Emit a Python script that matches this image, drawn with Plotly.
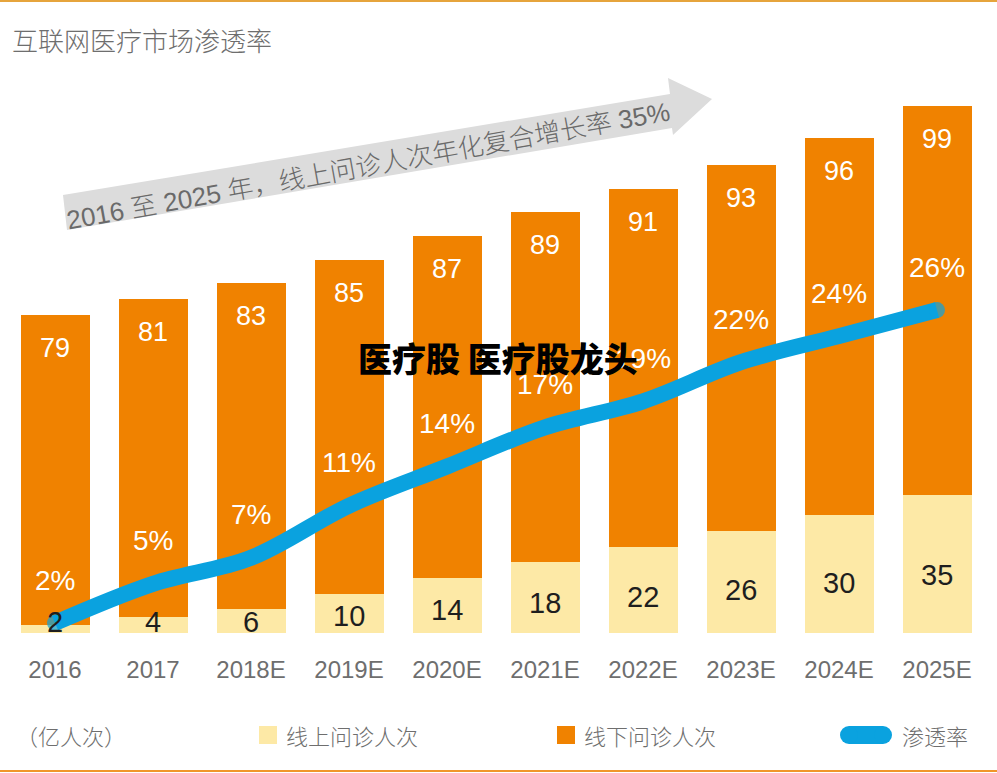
import plotly.graph_objects as go

# ---- data ----
years = ["2016", "2017", "2018E", "2019E", "2020E", "2021E", "2022E", "2023E", "2024E", "2025E"]
online_visits = [2, 4, 6, 10, 14, 18, 22, 26, 30, 35]        # 线上问诊人次 (亿人次)
offline_visits = [79, 81, 83, 85, 87, 89, 91, 93, 96, 99]    # 线下问诊人次 (亿人次)
penetration = [2, 5, 7, 11, 14, 17, 19, 22, 24, 26]          # 渗透率 (%)

ORANGE = "#F08200"
YELLOW = "#FDE9A6"
BLUE = "#0AA2DF"
GRAY = "#6E6E6E"
NUM_FONT = "Liberation Sans, Arial, sans-serif"
CJK_FONT = "Noto Sans CJK SC, sans-serif"
MIX_FONT = "Liberation Sans, Noto Sans CJK SC, sans-serif"

W, H = 997, 773
L, R, T, B = 6, 11, 80, 140
pw, ph = W - L - R, H - T - B


def px(x):
    return (x - L) / pw


def py(y):
    return (H - B - y) / ph


idx = list(range(len(years)))

fig = go.Figure()
fig.add_bar(x=idx, y=online_visits, name="线上问诊人次", marker=dict(color=YELLOW, line_width=0))
fig.add_bar(x=idx, y=offline_visits, name="线下问诊人次", marker=dict(color=ORANGE, line_width=0))
fig.add_scatter(
    x=idx, y=penetration, yaxis="y2", name="渗透率", mode="lines+markers",
    line=dict(color=BLUE, width=16, shape="spline", smoothing=1.0),
    marker=dict(size=[16] + [0] * (len(years) - 2) + [16], color=BLUE, line_width=0),
)

annotations = []
# offline value labels (near bar tops)
for i, on, off in zip(idx, online_visits, offline_visits):
    annotations.append(dict(x=i, y=on + off, xref="x", yref="y", text=str(off), showarrow=False,
                            yshift=-33, font=dict(family=NUM_FONT, size=27, color="white")))
# online value labels
for i, on in zip(idx, online_visits):
    annotations.append(dict(x=i, y=max(on * 0.42, 2.8), xref="x", yref="y", text=str(on), showarrow=False,
                            font=dict(family=NUM_FONT, size=29, color="#1E1E1E")))
# penetration labels
for i, p in zip(idx, penetration):
    annotations.append(dict(x=i, y=p, xref="x", yref="y2", text=f"{p}%", showarrow=False,
                            yshift=43, font=dict(family=NUM_FONT, size=28, color="white")))

# title
annotations.append(dict(x=px(10), y=py(40), xref="paper", yref="paper", xanchor="left", yanchor="middle",
                        text="互联网医疗市场渗透率", showarrow=False,
                        font=dict(family=CJK_FONT, size=26, color=GRAY, weight=300)))
# arrow text
annotations.append(dict(x=px(368), y=py(166), xref="paper", yref="paper", xanchor="center", yanchor="middle",
                        text="2016 至 2025 年，线上问诊人次年化复合增长率 35%", showarrow=False, textangle=-10.3,
                        font=dict(family=MIX_FONT, size=26, color="#6A6A6A", weight=300)))
# watermark
annotations.append(dict(x=px(498), y=py(357), xref="paper", yref="paper", xanchor="center", yanchor="middle",
                        text="医疗股 医疗股龙头", showarrow=False,
                        font=dict(family=CJK_FONT, size=34, color="black", weight=900)))
# legend texts
annotations += [
    dict(x=px(14), y=py(735), xref="paper", yref="paper", xanchor="left", yanchor="middle",
         text="（亿人次）", showarrow=False, font=dict(family=CJK_FONT, size=22, color=GRAY, weight=300)),
    dict(x=px(284), y=py(735), xref="paper", yref="paper", xanchor="left", yanchor="middle",
         text="线上问诊人次", showarrow=False, font=dict(family=CJK_FONT, size=22, color=GRAY, weight=300)),
    dict(x=px(582), y=py(735), xref="paper", yref="paper", xanchor="left", yanchor="middle",
         text="线下问诊人次", showarrow=False, font=dict(family=CJK_FONT, size=22, color=GRAY, weight=300)),
    dict(x=px(900), y=py(735), xref="paper", yref="paper", xanchor="left", yanchor="middle",
         text="渗透率", showarrow=False, font=dict(family=CJK_FONT, size=22, color=GRAY, weight=300)),
]

# arrow band path (pixel coords converted to paper)
arrow_pts = [(63, 195), (670, 94), (668, 78), (712, 99), (673, 135), (672, 128), (67, 230)]
arrow_path = "M " + " L ".join(f"{px(x):.5f},{py(y):.5f}" for x, y in arrow_pts) + " Z"

shapes = [
    dict(type="path", path=arrow_path, xref="paper", yref="paper", fillcolor="#DCDCDC",
         line=dict(width=0), layer="below"),
    # frame lines
    dict(type="line", xref="paper", yref="paper", x0=px(0), x1=px(W), y0=py(1), y1=py(1),
         line=dict(color="#E6A43C", width=2)),
    dict(type="line", xref="paper", yref="paper", x0=px(0), x1=px(W), y0=py(771), y1=py(771),
         line=dict(color="#F0962A", width=2)),
    # legend swatches
    dict(type="rect", xref="paper", yref="paper", x0=px(259), x1=px(277), y0=py(744), y1=py(726),
         fillcolor=YELLOW, line_width=0),
    dict(type="rect", xref="paper", yref="paper", x0=px(557), x1=px(575), y0=py(744), y1=py(726),
         fillcolor=ORANGE, line_width=0),
    dict(type="rect", xref="paper", yref="paper", x0=px(849), x1=px(883), y0=py(744), y1=py(726),
         fillcolor=BLUE, line_width=0),
    dict(type="circle", xref="paper", yref="paper", x0=px(840), x1=px(858), y0=py(744), y1=py(726),
         fillcolor=BLUE, line_width=0),
    dict(type="circle", xref="paper", yref="paper", x0=px(874), x1=px(892), y0=py(744), y1=py(726),
         fillcolor=BLUE, line_width=0),
]

bar_scale = 3.93      # px per 亿人次
pen_scale = 13.04     # px per %
p0 = 2 - 10 / pen_scale

fig.update_layout(
    width=W, height=H,
    margin=dict(l=L, r=R, t=T, b=B, pad=0),
    paper_bgcolor="white", plot_bgcolor="white",
    barmode="stack", bargap=0.296,
    showlegend=False,
    xaxis=dict(range=[-0.5, len(years) - 0.5], tickmode="array", tickvals=idx, ticktext=years,
               showgrid=False, zeroline=False, showline=False, ticks="",
               tickfont=dict(family=NUM_FONT, size=24, color=GRAY), ticklabelstandoff=20),
    yaxis=dict(range=[0, ph / bar_scale], visible=False),
    yaxis2=dict(range=[p0, p0 + ph / pen_scale], overlaying="y", visible=False),
    annotations=annotations,
    shapes=shapes,
)

fig.write_html("out.html", config={"displayModeBar": False},
               post_script="document.body.style.margin='0';document.body.style.overflow='hidden';")
